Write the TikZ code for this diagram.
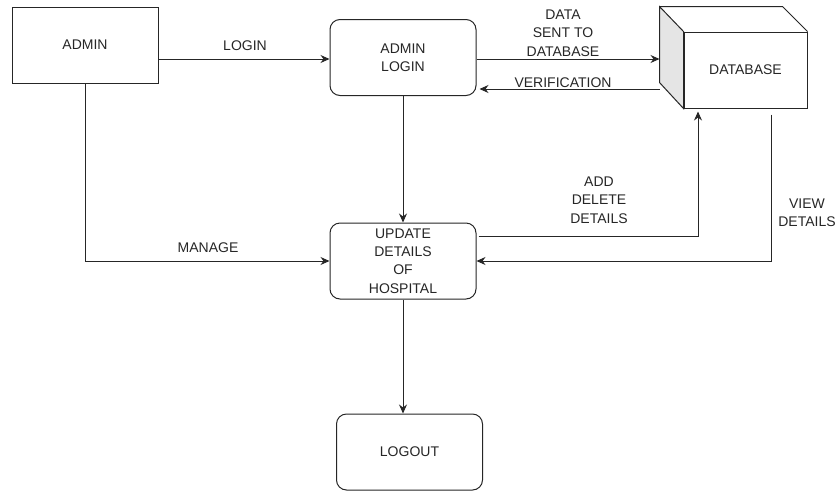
\documentclass[tikz,border=0pt]{standalone}
\usepackage{fontspec}
\setmainfont{Liberation Sans}
\usetikzlibrary{arrows.meta,calc}
\begin{document}
\begin{tikzpicture}[x=1pt,y=-1pt,
  font=\fontsize{14}{18.3}\selectfont, line width=1pt, color=black!85,
  box/.style={draw, fill=white, minimum width=146pt, minimum height=76pt, inner sep=0pt, align=center},
  rbox/.style={box, rounded corners=10pt},
  arr/.style={-{Stealth[length=9pt,width=8pt]}},
  lbl/.style={align=center, inner sep=0pt}]
\useasboundingbox (0,0) rectangle (838,491);
% nodes
\node[box] (admin) at (85,45) {ADMIN};
\node[rbox] (alogin) at (403,57.5) {ADMIN\\LOGIN};
\node[rbox] (update) at (403,261) {UPDATE\\DETAILS\\OF\\HOSPITAL};
\node[rbox] (logout) at (409.5,452) {LOGOUT};
\node[box, minimum width=123pt] (db) at (745.5,70) {DATABASE};
% cube extension of the database
\coordinate (dbback) at ($(db.north west)+(-24,-25)$);
\filldraw[fill=black!10] (db.north west) -- (dbback) -- ++(0,76) -- (db.south west) -- cycle;
\draw (dbback) -- ++(123,0) -- (db.north east);
% labels
\node[lbl] (lLogin) at (245,46) {LOGIN};
\node[lbl] (lData) at (563,33) {DATA\\SENT TO\\DATABASE};
\node[lbl] (lVer) at (563,83) {VERIFICATION};
\node[lbl] (lMan) at (208,248) {MANAGE};
\node[lbl] (lAdd) at (599,200) {ADD\\DELETE\\DETAILS};
\node[lbl] (lView) at (807,212.5) {VIEW\\DETAILS};
% connectors
\coordinate (c59) at (0,59);
\coordinate (c89) at (0,89);
\coordinate (addc) at (698,236);
\coordinate (viewc) at (771,261);
\draw[arr] (admin.east |- c59) -- (alogin.west |- c59);
\draw[arr] (alogin.east |- c59) -- (dbback |- c59);
\draw[arr, shorten >=3pt] (dbback |- c89) -- (alogin.east |- c89);
\draw[arr] (alogin.south) -- (update.north);
\draw[arr, shorten >=3pt] ($(update.east |- addc)+(2,0)$) -- (addc) -- (addc |- db.south);
\draw[arr] ($(viewc |- db.south)+(0,6)$) -- (viewc) -- (update.east |- viewc);
\draw[arr] (admin.south) -- (admin.south |- update.west) -- (update.west);
\draw[arr] (update.south) -- (update.south |- logout.north);
\end{tikzpicture}
\end{document}
